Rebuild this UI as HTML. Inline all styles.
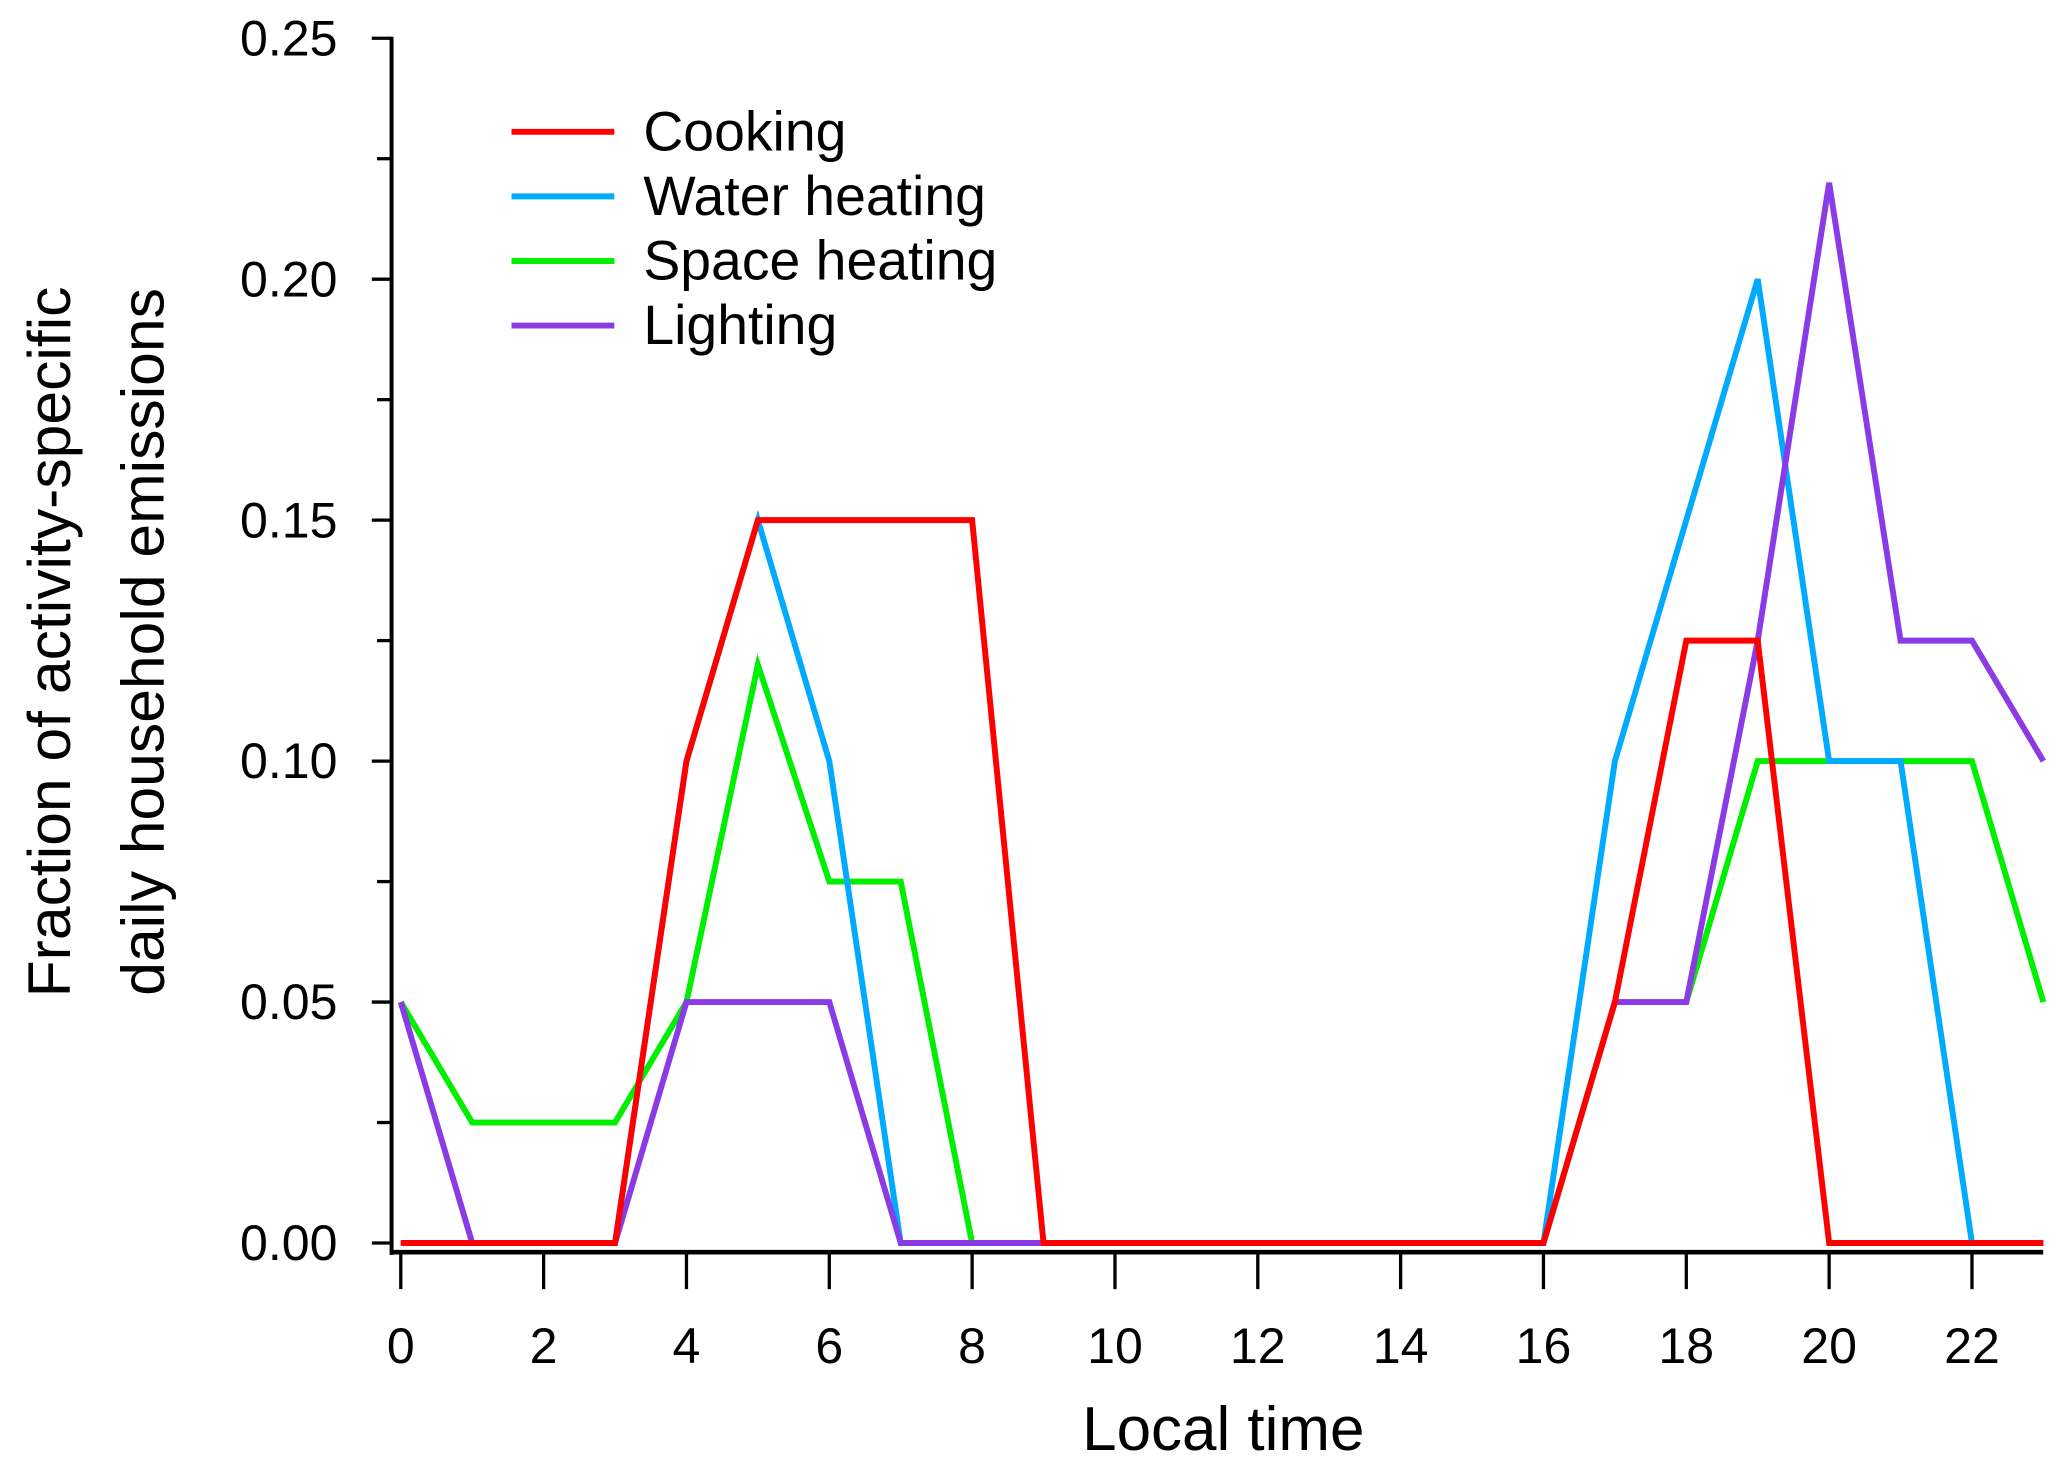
<!DOCTYPE html>
<html><head><meta charset="utf-8"><style>
html,body{margin:0;padding:0;background:#fff;}
svg{display:block;font-family:"Liberation Sans",sans-serif;}
</style></head><body>
<svg id="chart" width="2067" height="1475" viewBox="0 0 1568 1119" xmlns="http://www.w3.org/2000/svg">
<g id="axes"></g>
<g id="series"></g>
<g id="legend"></g>
<text x="928" y="1100" font-size="47" text-anchor="middle">Local time</text>
<text transform="translate(53,487) rotate(-90)" font-size="46" text-anchor="middle">Fraction of activity-specific</text>
<text transform="translate(124,487) rotate(-90)" font-size="46" text-anchor="middle">daily household emissions</text>
</svg>
<script>
const hours = [0,1,2,3,4,5,6,7,8,9,10,11,12,13,14,15,16,17,18,19,20,21,22,23];
const cooking = [0,0,0,0,0.10,0.15,0.15,0.15,0.15,0,0,0,0,0,0,0,0,0.05,0.125,0.125,0,0,0,0];
const waterHeating = [0,0,0,0,0.10,0.15,0.10,0,0,0,0,0,0,0,0,0,0,0.10,0.15,0.20,0.10,0.10,0,0];
const spaceHeating = [0.05,0.025,0.025,0.025,0.05,0.12,0.075,0.075,0,0,0,0,0,0,0,0,0,0.05,0.05,0.10,0.10,0.10,0.10,0.05];
const lighting = [0.05,0,0,0,0.05,0.05,0.05,0,0,0,0,0,0,0,0,0,0,0.05,0.05,0.125,0.22,0.125,0.125,0.10];
const yTicks = [0,0.05,0.10,0.15,0.20,0.25];
const yTickLabels = ["0.00","0.05","0.10","0.15","0.20","0.25"];
const xTicks = [0,2,4,6,8,10,12,14,16,18,20,22];
const seriesNames = ["Space heating","Water heating","Lighting","Cooking"];
const legendOrder = ["Cooking","Water heating","Space heating","Lighting"];

const NS="http://www.w3.org/2000/svg";
const xs = h => 304 + h*54.18;
const ys = v => 943 - v/0.05*182.8;
function mk(tag, attrs, parent){const e=document.createElementNS(NS,tag);for(const k in attrs)e.setAttribute(k,attrs[k]);parent.appendChild(e);return e;}
const axes=document.getElementById('axes');
let el=mk('line',{x1:297,y1:ys(0.25)-1,x2:297,y2:952,stroke:'#000','stroke-width':3},axes);


el=mk('line',{x1:296,y1:950,x2:1550,y2:950,stroke:'#000','stroke-width':3.5},axes);


yTicks.forEach((v,i)=>{
  let t=mk('line',{x1:282,y1:ys(v),x2:297,y2:ys(v),stroke:'#000','stroke-width':2.5},axes);
  
  
  let l=mk('text',{x:256,y:ys(v)+13,'font-size':38,'text-anchor':'end'},axes);
  l.textContent=yTickLabels[i];
  
  
  if(i<yTicks.length-1){
    let m=mk('line',{x1:286,y1:ys(v+0.025),x2:297,y2:ys(v+0.025),stroke:'#000','stroke-width':2.5},axes);
    
    
  }
});
xTicks.forEach(h=>{
  let t=mk('line',{x1:xs(h),y1:950,x2:xs(h),y2:978,stroke:'#000','stroke-width':2.5},axes);
  
  
  let l=mk('text',{x:xs(h),y:1034,'font-size':38,'text-anchor':'middle'},axes);
  l.textContent=String(h);
  
  
});
const colors={"Cooking":"#ff0000","Water heating":"#00aaff","Space heating":"#00ee00","Lighting":"#8a3be6"};
const data={"Cooking":cooking,"Water heating":waterHeating,"Space heating":spaceHeating,"Lighting":lighting};
const sg=document.getElementById('series');
seriesNames.forEach(n=>{
  const pts=hours.map((h,i)=>xs(h)+','+ys(data[n][i])).join(' ');
  let p=mk('polyline',{points:pts,fill:'none',stroke:colors[n],'stroke-width':4.5,'stroke-linejoin':'miter'},sg);
  
  
});
const lg=document.getElementById('legend');
legendOrder.forEach((n,i)=>{
  const y=100+i*49;
  let l=mk('line',{x1:388,y1:y,x2:466,y2:y,stroke:colors[n],'stroke-width':4.5},lg);
  
  
  let t=mk('text',{x:488,y:y+14,'font-size':42},lg);
  t.textContent=n;
  
  
});
</script>
</body></html>
